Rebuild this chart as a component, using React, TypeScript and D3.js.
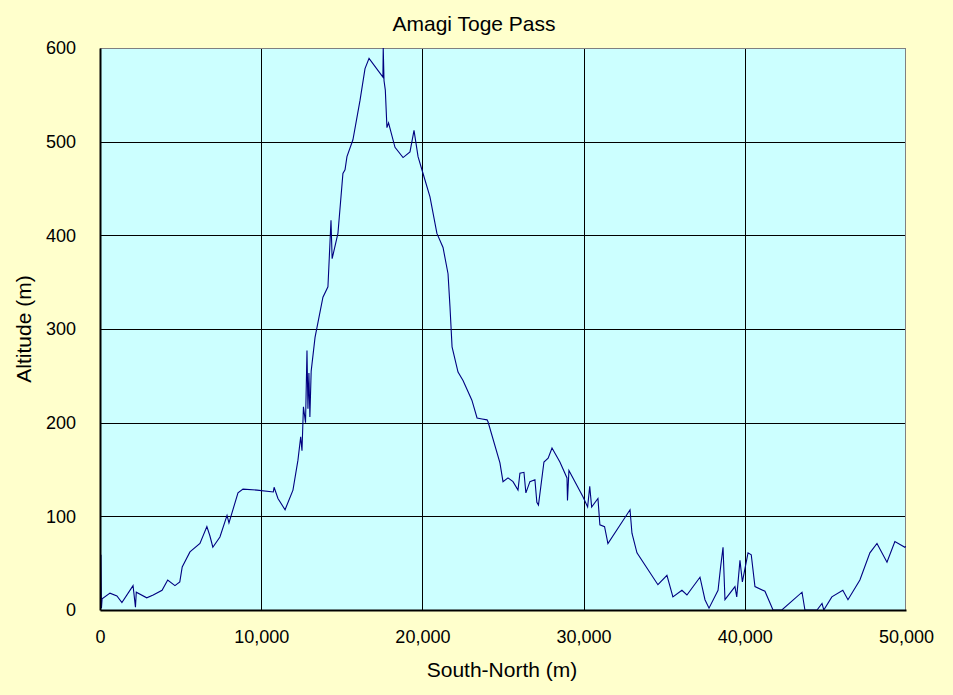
import { useEffect, useRef } from 'react';
import * as d3 from 'd3';

const width = 953;
const height = 695;
const [mt, mr, mb, ml] = [48, 47, 85, 100];
const graphWidth = width - ml - mr;
const graphHeight = height - mt - mb;

// distance along the route (m)
const distance = [
    60, 90, 130, 620, 1050, 1360, 2050, 2200, 2250, 2900, 3300, 3850, 4200, 4650, 4950, 5100, 5580, 6200, 6630, 6820,
    7000, 7440, 7880, 8000, 8560, 8870, 9740, 10750, 10800, 11040, 11480, 11970, 12280, 12450, 12530, 12620, 12750,
    12840, 12900, 12960, 13020, 13100, 13340, 13830, 14140, 14330, 14400, 14760, 15070, 15200, 15320, 15690, 16130,
    16440, 16690, 17550, 17570, 17620, 17700, 17800, 17900, 18300, 18800, 19230, 19480, 19730, 20040, 20470, 20900,
    21280, 21590, 21710, 21840, 22210, 22520, 23070, 23390, 23700, 24010, 24070, 24810, 25000, 25310, 25620, 25930,
    26050, 26300, 26420, 26670, 26980, 27100, 27200, 27540, 27800, 28040, 28530, 28970, 29000, 29090, 29960, 30250,
    30380, 30500, 30890, 31010, 31300, 31510, 32880, 33000, 33310, 34610, 35170, 35540, 36100, 36410, 37220, 37530,
    37780, 38340, 38500, 38650, 38770, 39390, 39500, 39700, 39850, 40200, 40400, 40630, 41250, 41750, 42300, 43550,
    43730, 44480, 44790, 44900, 45400, 46080, 46400, 47140, 47760, 48200, 48820, 49310, 49930, 50000
];

// altitude (m)
const altitude = [
    59, 2, 12, 18, 15, 8, 26, 3, 19, 13, 16, 21, 32, 26, 30, 46, 62, 71, 89, 79,
    67, 78, 101, 93, 125, 129, 128, 126, 131, 119, 107, 128, 160, 185, 170, 217, 200,
    277, 215, 253, 206, 255, 291, 334, 345, 416, 375, 402, 466, 470, 484, 502, 544,
    578, 589, 569, 600, 565, 555, 515, 520, 494, 483, 489, 512, 484, 466, 441, 402,
    387, 359, 324, 281, 254, 245, 224, 205, 204, 203, 201, 157, 137, 141, 137, 128,
    146, 147, 125, 137, 139, 115, 112, 158, 162, 173, 158, 141, 117, 149, 121, 110,
    132, 110, 119, 91, 89, 71, 107, 82, 61, 27, 37, 14, 21, 16, 35, 11,
    2, 21, 46, 67, 11, 25, 14, 53, 30, 61, 59, 25, 20, 0, 0, 19,
    0, 0, 7, 0, 14, 21, 11, 32, 61, 71, 51, 73, 67, 68
];

const xTicks = [0, 10000, 20000, 30000, 40000, 50000];
const yTicks = [0, 100, 200, 300, 400, 500, 600];

const font = '"Liberation Sans", Arial, sans-serif';

export default function App() {
    const chart = useRef<SVGSVGElement>(null);

    useEffect(() => {
        const svg = d3.select(chart.current);
        svg.selectAll('*').remove();

        svg.append('rect').attr('width', width).attr('height', height).attr('fill', '#ffffcc');

        const graph = svg.append('g').attr('transform', `translate(${ml}, ${mt})`);

        const xScale = d3.scaleLinear().domain([0, 50000]).range([0, graphWidth]);
        const yScale = d3.scaleLinear().domain([0, 600]).range([graphHeight, 0]);

        graph.append('rect').attr('width', graphWidth).attr('height', graphHeight).attr('fill', '#ccffff');

        // grid lines
        graph
            .append('g')
            .selectAll('line')
            .data(xTicks.slice(1, -1))
            .join('line')
            .attr('x1', (d) => Math.round(xScale(d)) + 0.5)
            .attr('x2', (d) => Math.round(xScale(d)) + 0.5)
            .attr('y1', 0)
            .attr('y2', graphHeight)
            .attr('stroke', '#000000');

        graph
            .append('g')
            .selectAll('line')
            .data(yTicks.slice(1, -1))
            .join('line')
            .attr('x1', 0)
            .attr('x2', graphWidth)
            .attr('y1', (d) => Math.round(yScale(d)) + 0.5)
            .attr('y2', (d) => Math.round(yScale(d)) + 0.5)
            .attr('stroke', '#000000');

        // plot frame (top / right grey)
        graph.append('line').attr('x1', 0).attr('x2', graphWidth).attr('y1', 0.5).attr('y2', 0.5).attr('stroke', '#808080');
        graph
            .append('line')
            .attr('x1', graphWidth - 0.5)
            .attr('x2', graphWidth - 0.5)
            .attr('y1', 0)
            .attr('y2', graphHeight)
            .attr('stroke', '#808080');

        // clip for the profile line
        svg.append('clipPath')
            .attr('id', 'plot-clip')
            .append('rect')
            .attr('width', graphWidth)
            .attr('height', graphHeight + 1);

        const points = distance.map((d, i) => ({ x: d, y: altitude[i] }));
        const line = d3
            .line<{ x: number; y: number }>()
            .x((d) => xScale(d.x))
            .y((d) => yScale(d.y));

        graph
            .append('path')
            .datum(points)
            .attr('clip-path', 'url(#plot-clip)')
            .attr('fill', 'none')
            .attr('stroke', '#000080')
            .attr('stroke-width', 1.1)
            .attr('d', line);

        // axes
        const xAxisG = graph
            .append('g')
            .attr('transform', `translate(0, ${graphHeight})`)
            .call(
                d3
                    .axisBottom(xScale)
                    .tickValues(xTicks)
                    .tickSize(0)
                    .tickPadding(20)
                    .tickFormat((d) => d3.format(',')(d as number))
            );
        xAxisG.select('.domain').attr('stroke', '#000000').attr('stroke-width', 2);
        xAxisG.selectAll('text').attr('font-family', font).attr('font-size', 18).attr('fill', '#000000');

        const yAxisG = graph
            .append('g')
            .call(d3.axisLeft(yScale).tickValues(yTicks).tickSize(0).tickPadding(24));
        yAxisG.select('.domain').attr('stroke', '#000000').attr('stroke-width', 2);
        yAxisG.selectAll('text').attr('font-family', font).attr('font-size', 18).attr('fill', '#000000');

        // titles
        svg.append('text')
            .attr('x', 474)
            .attr('y', 31)
            .attr('text-anchor', 'middle')
            .attr('font-family', font)
            .attr('font-size', 21)
            .text('Amagi Toge Pass');

        svg.append('text')
            .attr('x', 502)
            .attr('y', 677)
            .attr('text-anchor', 'middle')
            .attr('font-family', font)
            .attr('font-size', 21)
            .text('South-North (m)');

        svg.append('text')
            .attr('transform', `translate(31, ${mt + graphHeight / 2}) rotate(-90)`)
            .attr('text-anchor', 'middle')
            .attr('font-family', font)
            .attr('font-size', 21)
            .text('Altitude (m)');
    }, []);

    return (
        <div style={{ position: 'absolute', left: 0, top: 0 }}>
            <svg ref={chart} width={width} height={height} style={{ display: 'block' }} />
        </div>
    );
}
